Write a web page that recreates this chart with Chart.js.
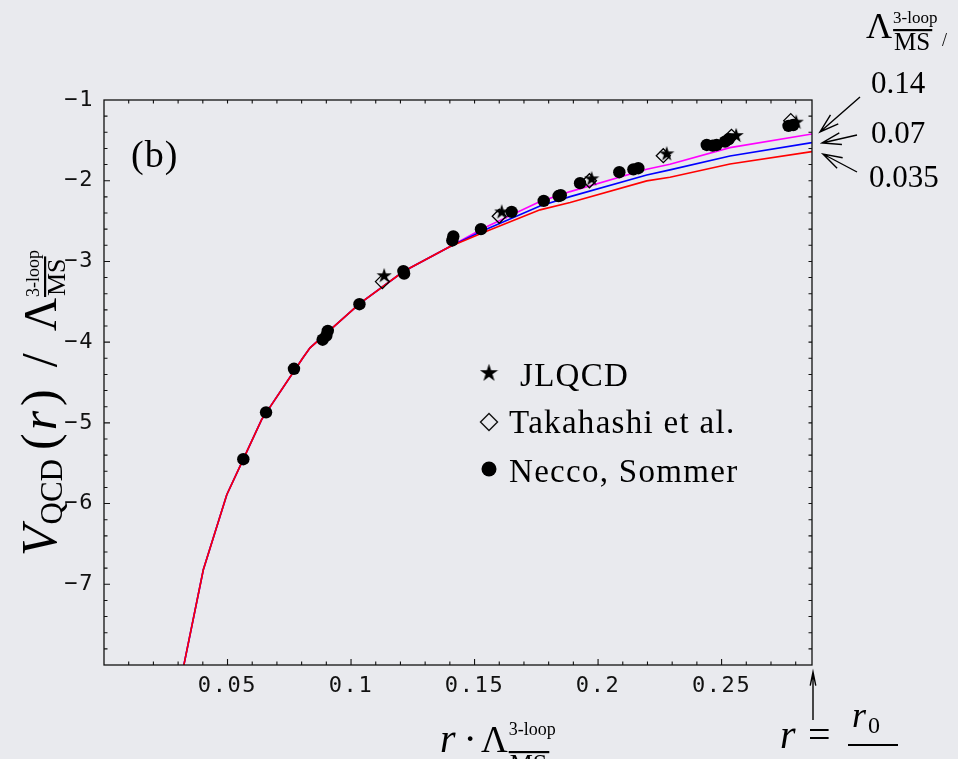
<!DOCTYPE html>
<html>
<head>
<meta charset="utf-8">
<script src="https://cdn.jsdelivr.net/npm/chart.js@4.4.1/dist/chart.umd.min.js"></script>
<style>
  html, body { margin: 0; padding: 0; background: #e9eaee; }
  #chart { display: block; }
</style>
</head>
<body>
<canvas id="chart" width="958" height="759"></canvas>
<script>
// r * Lambda values where the three curves were sampled
const rGrid = [0.0320, 0.0402, 0.0497, 0.0564, 0.0638, 0.0804, 0.0834, 0.1036, 0.1212, 0.1401,
               0.1536, 0.1765, 0.1887, 0.2197, 0.2291, 0.2534, 0.2866];
// V / Lambda for the three Lambda values (0.14, 0.07, 0.035)
const curve014 = [-8.05, -6.82, -5.89, -5.45, -4.96, -4.20, -4.07, -3.52, -3.125, -2.815,
                  -2.588, -2.259, -2.135, -1.858, -1.796, -1.590, -1.421];
const curve007 = [-8.05, -6.82, -5.89, -5.45, -4.96, -4.20, -4.07, -3.52, -3.125, -2.815,
                  -2.618, -2.312, -2.197, -1.928, -1.866, -1.693, -1.528];
const curve0035 = [-8.05, -6.82, -5.89, -5.45, -4.96, -4.20, -4.07, -3.52, -3.125, -2.815,
                   -2.642, -2.361, -2.271, -2.002, -1.957, -1.792, -1.640];

// lattice points
const jlqcdR = [0.1134, 0.1610, 0.1974, 0.2278, 0.2559, 0.2802];
const jlqcdV = [-3.17, -2.38, -1.97, -1.66, -1.433, -1.268];
const takahashiR = [0.1127, 0.1600, 0.1965, 0.2264, 0.2540, 0.2780];
const takahashiV = [-3.25, -2.44, -2.00, -1.69, -1.45, -1.256];
const neccoR = [0.0564, 0.0656, 0.0769, 0.0885, 0.0900, 0.0906, 0.1034, 0.1212, 0.1215, 0.1410,
                0.1414, 0.1526, 0.1650, 0.1780, 0.1840, 0.1849, 0.1927, 0.2086, 0.2143, 0.2163,
                0.2440, 0.2464, 0.2480, 0.2514, 0.2528, 0.2771, 0.2790];
const neccoV = [-5.45, -4.87, -4.33, -3.97, -3.92, -3.86, -3.53, -3.12, -3.15, -2.74,
                -2.69, -2.60, -2.386, -2.25, -2.19, -2.18, -2.03, -1.895, -1.86, -1.845,
                -1.557, -1.565, -1.557, -1.516, -1.487, -1.32, -1.31];

const xTicks = [0.05, 0.1, 0.15, 0.2, 0.25];
const yTicks = [-1, -2, -3, -4, -5, -6, -7];
const lambdaLabels = ['0.14', '0.07', '0.035'];
const legendLabels = ['JLQCD', 'Takahashi et al.', 'Necco, Sommer'];

const serif = '"Liberation Serif", "DejaVu Serif", serif';
const mono = '"DejaVu Sans Mono", monospace';

function pairs(xs, ys) {
  return xs.map((x, i) => ({ x: x, y: ys[i] }));
}

// small filled star like TeX \star
function makeStar(size) {
  const c = document.createElement('canvas');
  c.width = size; c.height = size;
  const g = c.getContext('2d');
  const cx = size / 2, cy = size / 2 + 0.7, R = size / 2, r = R * 0.38;
  g.beginPath();
  for (let i = 0; i < 10; i++) {
    const a = -Math.PI / 2 + i * Math.PI / 5;
    const rr = i % 2 ? r : R;
    g.lineTo(cx + rr * Math.cos(a), cy + rr * Math.sin(a));
  }
  g.closePath();
  g.fillStyle = '#000';
  g.fill();
  return c;
}
const starImg = makeStar(16);
const starBig = makeStar(19);

// draws a run of text pieces, returns end x
function run(ctx, pieces, x, y) {
  pieces.forEach(p => {
    ctx.font = p.font;
    x += (p.dx || 0);
    ctx.fillText(p.t, x, y + (p.dy || 0));
    x += ctx.measureText(p.t).width + (p.after || 0);
  });
  return x;
}

// Lambda^{3-loop}_{MSbar} at baseline (x, y), returns end x
function lambdaMS(ctx, x, y, big, sup, sub, supDy, subDy) {
  ctx.font = big + 'px ' + serif;
  ctx.fillText('\u039B', x, y);
  x += ctx.measureText('\u039B').width + 1;
  ctx.font = sup + 'px ' + serif;
  ctx.fillText('3-loop', x, y + supDy);
  const w1 = ctx.measureText('3-loop').width;
  ctx.font = sub + 'px ' + serif;
  ctx.fillText('MS', x + 1, y + subDy);
  const m = ctx.measureText('MS');
  const barY = y + subDy - m.actualBoundingBoxAscent - 3;
  ctx.fillRect(x, barY - 1, m.width + 3, 2.2);
  return x + Math.max(w1, m.width);
}

function arrow(ctx, x1, y1, x2, y2, head, spread) {
  const a = Math.atan2(y2 - y1, x2 - x1);
  ctx.beginPath();
  ctx.moveTo(x1, y1);
  ctx.lineTo(x2, y2);
  ctx.moveTo(x2 - head * Math.cos(a - spread), y2 - head * Math.sin(a - spread));
  ctx.lineTo(x2, y2);
  ctx.lineTo(x2 - head * Math.cos(a + spread), y2 - head * Math.sin(a + spread));
  ctx.stroke();
}

const decor = {
  id: 'decor',
  beforeDraw(chart) {
    chart.ctx.letterSpacing = '1.6px';
  },
  beforeDatasetsDraw(chart) {
    chart.ctx.letterSpacing = '0px';
  },
  afterDraw(chart) {
    const ctx = chart.ctx;
    const a = chart.chartArea;
    const xs = chart.scales.x, ys = chart.scales.y;
    ctx.save();
    ctx.letterSpacing = '0px';
    ctx.fillStyle = '#000';
    ctx.strokeStyle = '#111';

    // frame
    ctx.lineWidth = 1.3;
    ctx.strokeRect(a.left, a.top, a.right - a.left, a.bottom - a.top);

    // ticks, pointing inwards on all four sides
    ctx.lineWidth = 1.1;
    ctx.beginPath();
    for (let i = 1; i <= 28; i++) {
      const px = xs.getPixelForValue(i / 100);
      const len = i % 5 === 0 ? 6 : 3.5;
      ctx.moveTo(px, a.bottom); ctx.lineTo(px, a.bottom - len);
      ctx.moveTo(px, a.top); ctx.lineTo(px, a.top + 3.5);
    }
    for (let j = 1; j < 35; j++) {
      const v = -8 + j * 0.2;
      const py = ys.getPixelForValue(v);
      const len = j % 5 === 0 ? 6 : 3.5;
      ctx.moveTo(a.left, py); ctx.lineTo(a.left + len, py);
      ctx.moveTo(a.right, py); ctx.lineTo(a.right - 3.5, py);
    }
    ctx.stroke();

    ctx.textAlign = 'left';
    ctx.textBaseline = 'alphabetic';

    // (b)
    ctx.font = '38px ' + serif;
    ctx.letterSpacing = '1px';
    ctx.fillText('(b)', 131, 167);

    // legend
    const lx = 489;
    ctx.drawImage(starBig, lx - 9.5, 363);
    ctx.lineWidth = 1.4;
    ctx.beginPath();
    ctx.moveTo(lx - 8.5, 422); ctx.lineTo(lx, 413.5); ctx.lineTo(lx + 8.5, 422); ctx.lineTo(lx, 430.5);
    ctx.closePath(); ctx.stroke();
    ctx.beginPath(); ctx.arc(lx, 469, 7.5, 0, Math.PI * 2); ctx.fill();
    ctx.font = '33px ' + serif;
    ctx.letterSpacing = '1.3px';
    ctx.fillText(legendLabels[0], 520, 386);
    ctx.fillText(legendLabels[1], 509, 433);
    ctx.fillText(legendLabels[2], 509, 482);
    ctx.letterSpacing = '0px';

    // Lambda value labels and arrows, top right
    lambdaMS(ctx, 866, 38, 36, 17, 25, -15, 12);
    ctx.font = '18px ' + serif;
    ctx.fillText('/', 942, 46);
    ctx.font = '31px ' + serif;
    ctx.fillText(lambdaLabels[0], 871, 93);
    ctx.fillText(lambdaLabels[1], 871, 143);
    ctx.fillText(lambdaLabels[2], 869, 187);
    ctx.lineWidth = 1.4;
    ctx.strokeStyle = '#000';
    arrow(ctx, 860, 97, 820, 132, 20, 0.3);
    arrow(ctx, 857, 135, 822, 143, 20, 0.3);
    arrow(ctx, 857, 172, 823, 154, 20, 0.3);

    // r = r0/2 marker
    arrow(ctx, 813, 720, 813, 672, 14, 0.2);
    ctx.font = 'italic 40px ' + serif;
    ctx.fillText('r', 780, 748);
    ctx.font = '40px ' + serif;
    ctx.fillText('=', 808, 748);
    ctx.font = 'italic 36px ' + serif;
    ctx.fillText('r', 852, 727);
    ctx.font = '24px ' + serif;
    ctx.fillText('0', 868, 733);
    ctx.fillRect(848, 744, 50, 2);
    ctx.font = '36px ' + serif;
    ctx.fillText('2', 862, 786);

    // x axis title
    let x = run(ctx, [
      { t: 'r', font: 'italic 40px ' + serif, after: 8 },
      { t: '\u00B7', font: '40px ' + serif, after: 4 }
    ], 440, 752);
    lambdaMS(ctx, x, 752, 37, 18, 26, -17, 20);

    // y axis title, rotated
    ctx.save();
    ctx.translate(56, 556);
    ctx.rotate(-Math.PI / 2);
    x = run(ctx, [
      { t: 'V', font: 'italic 50px ' + serif, after: 1 },
      { t: 'QCD', font: '31px ' + serif, dy: 6 },
      { t: '(', font: '50px ' + serif, dx: 9 },
      { t: 'r', font: 'italic 50px ' + serif, dx: 3 },
      { t: ')', font: '50px ' + serif, dx: 5, after: 22 },
      { t: '/', font: '50px ' + serif, after: 22 }
    ], 0, 0);
    lambdaMS(ctx, x, 0, 46, 18, 26, -17, 9);
    ctx.restore();

    ctx.restore();
  }
};

const ctx = document.getElementById('chart').getContext('2d');
new Chart(ctx, {
  type: 'scatter',
  data: {
    datasets: [
      {
        label: legendLabels[0],
        data: pairs(jlqcdR, jlqcdV),
        pointStyle: starImg,
        pointRadius: 7,
        order: 1
      },
      {
        label: legendLabels[1],
        data: pairs(takahashiR, takahashiV),
        pointStyle: 'rectRot',
        pointRadius: 7,
        backgroundColor: 'rgba(0,0,0,0)',
        borderColor: '#000',
        pointBorderWidth: 1.3,
        order: 2
      },
      {
        label: legendLabels[2],
        data: pairs(neccoR, neccoV),
        pointStyle: 'circle',
        pointRadius: 6.2,
        backgroundColor: '#000',
        borderColor: '#000',
        pointBorderWidth: 0,
        order: 0
      },
      {
        label: '0.035',
        data: pairs(rGrid, curve0035),
        showLine: true,
        borderColor: '#ff0000',
        borderWidth: 1.6,
        pointRadius: 0,
        order: 3
      },
      {
        label: '0.07',
        data: pairs(rGrid, curve007),
        showLine: true,
        borderColor: '#0000ff',
        borderWidth: 1.6,
        pointRadius: 0,
        order: 4
      },
      {
        label: '0.14',
        data: pairs(rGrid, curve014),
        showLine: true,
        borderColor: '#ff00ff',
        borderWidth: 1.6,
        pointRadius: 0,
        order: 5
      }
    ]
  },
  options: {
    responsive: false,
    animation: false,
    devicePixelRatio: 1,
    layout: { padding: { top: 100, right: 146, left: 0, bottom: 0 } },
    plugins: {
      legend: { display: false },
      tooltip: { enabled: false }
    },
    scales: {
      x: {
        type: 'linear',
        min: 0,
        max: 0.2866,
        afterBuildTicks: s => { s.ticks = xTicks.map(v => ({ value: v })); },
        afterFit: s => { s.height = 94; },
        grid: { display: false, drawTicks: false },
        border: { display: false },
        ticks: {
          color: '#111',
          font: { family: mono, size: 22 },
          padding: 8,
          maxRotation: 0,
          callback: v => String(v)
        }
      },
      y: {
        type: 'linear',
        min: -8,
        max: -1,
        afterBuildTicks: s => { s.ticks = yTicks.map(v => ({ value: v })); },
        afterFit: s => { s.width = 104; },
        grid: { display: false, drawTicks: false },
        border: { display: false },
        ticks: {
          color: '#111',
          font: { family: mono, size: 22 },
          padding: 10,
          callback: v => '\u2212' + Math.abs(v)
        }
      }
    }
  },
  plugins: [decor]
});
</script>
</body>
</html>
